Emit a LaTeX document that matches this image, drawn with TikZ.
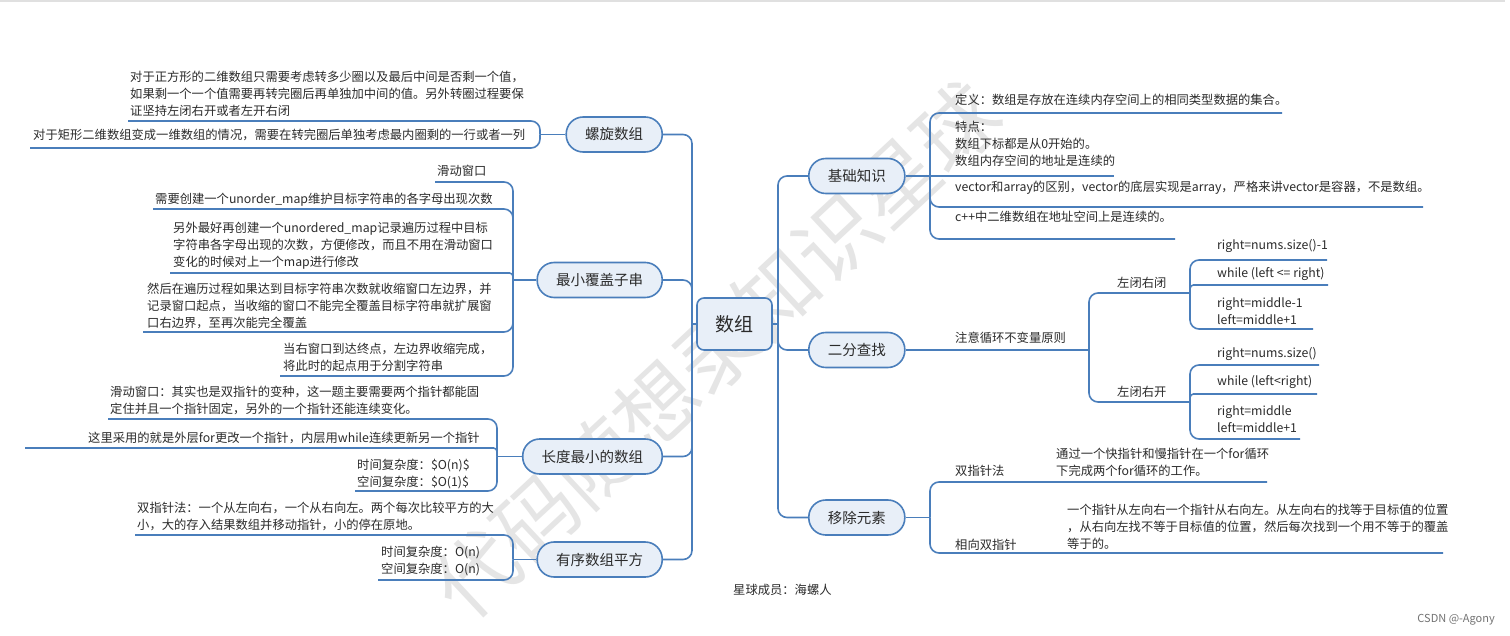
\documentclass[tikz,border=0pt]{standalone}
\usepackage{fontspec}
\setmainfont{Noto Sans CJK SC}
\definecolor{lineblue}{HTML}{4A7EBB}
\definecolor{nodefill}{HTML}{E8EFF8}
\definecolor{txtcol}{HTML}{2B2B2B}
\begin{document}
\begin{tikzpicture}[x=1pt,y=-1pt,
  conn/.style={draw=lineblue, line width=1.6pt, rounded corners=9pt},
  connsm/.style={draw=lineblue, line width=1.6pt, rounded corners=3.5pt},
  mainnode/.style={draw=lineblue, fill=nodefill, line width=1.6pt, rounded corners=17pt,
    minimum height=35pt, inner xsep=19pt, inner ysep=0pt, text=txtcol,
    font=\fontsize{14.5}{17}\selectfont},
  rootnode/.style={draw=lineblue, fill=nodefill, line width=1.6pt, rounded corners=7pt,
    minimum width=75pt, minimum height=52pt, text=txtcol, font=\fontsize{19}{22}\selectfont},
  txt/.style={inner sep=0pt, align=left, anchor=west, text=txtcol,
    font=\fontsize{12.3}{17}\selectfont},
  wm/.style={text=black!10, font=\fontsize{82}{82}\selectfont},
]
\useasboundingbox (0,0) rectangle (1510,636);
\fill[white] (0,0) rectangle (1510,636);
\draw[black!12, line width=1.5pt] (0,1) -- (1505,1);

% watermark
\node[wm, rotate=43] (wmark) at (716,350) {代码随想录知识星球};

% root and main topics
\node[rootnode] (root) at (734.5,324) {数组};
\node[mainnode, anchor=east] (spiral) at (663,134.5) {螺旋数组};
\node[mainnode, anchor=east] (minsub) at (663,280) {最小覆盖子串};
\node[mainnode, anchor=east] (minlen) at (663,456.5) {长度最小的数组};
\node[mainnode, anchor=east] (sqr) at (663,559.5) {有序数组平方};
\node[mainnode, anchor=west] (basic) at (808,176) {基础知识};
\node[mainnode, anchor=west] (bsearch) at (808,350) {二分查找};
\node[mainnode, anchor=west] (remove) at (808,517.5) {移除元素};

% trunks
\draw[conn] (root.west) -- (692,324) coordinate (lt);
\foreach \n in {spiral,minsub,minlen,sqr} \draw[conn] (lt) |- (\n.east);
\draw[conn] (root.east) -- (778,324) coordinate (rt);
\foreach \n in {basic,bsearch,remove} \draw[conn] (rt) |- (\n.west);

% ---------- left texts ----------
\node[txt] (l1a) at (130,94) {对于正方形的二维数组只需要考虑转多少圈以及最后中间是否剩一个值，\\如果剩一个一个值需要再转完圈后再单独加中间的值。另外转圈过程要保\\证坚持左闭右开或者左开右闭};
\node[txt] (l1b) at (33,135) {对于矩形二维数组变成一维数组的情况，需要在转完圈后单独考虑最内圈剩的一行或者一列};
\node[txt] (l2a) at (437,171) {滑动窗口};
\node[txt] (l2b) at (155,200) {需要创建一个unorder\_map维护目标字符串的各字母出现次数};
\node[txt] (l2c) at (173,246) {另外最好再创建一个unordered\_map记录遍历过程中目标\\字符串各字母出现的次数，方便修改，而且不用在滑动窗口\\变化的时候对上一个map进行修改};
\node[txt] (l2d) at (147,306) {然后在遍历过程如果达到目标字符串次数就收缩窗口左边界，并\\记录窗口起点，当收缩的窗口不能完全覆盖目标字符串就扩展窗\\口右边界，至再次能完全覆盖};
\node[txt] (l2e) at (283,357.5) {当右窗口到达终点，左边界收缩完成，\\将此时的起点用于分割字符串};
\node[txt] (l3a) at (110,400.5) {滑动窗口：其实也是双指针的变种，这一题主要需要两个指针都能固\\定住并且一个指针固定，另外的一个指针还能连续变化。};
\node[txt] (l3b) at (88,438) {这里采用的就是外层for更改一个指针，内层用while连续更新另一个指针};
\node[txt] (l3c) at (357,474) {时间复杂度：\$O(n)\$\\空间复杂度：\$O(1)\$};
\node[txt] (l4a) at (137,516.5) {双指针法：一个从左向右，一个从右向左。两个每次比较平方的大\\小，大的存入结果数组并移动指针，小的停在原地。};
\node[txt] (l4b) at (381,561.5) {时间复杂度：O(n)\\空间复杂度：O(n)};

% left underline ends
\coordinate (u1a) at (128,121);
\coordinate (u1b) at (30,148);
\coordinate (u2a) at (435,182);
\coordinate (u2b) at (153,209);
\coordinate (u2c) at (170,273);
\coordinate (u2d) at (143,332);
\coordinate (u2e) at (280,376);
\coordinate (u3a) at (108,419);
\coordinate (u3b) at (25,448);
\coordinate (u3c) at (355,491);
\coordinate (u4a) at (135,535);
\coordinate (u4b) at (378,580);

% left brackets
\draw[conn] (spiral.west) -- (540,134.5) coordinate (sb);
\draw[conn] (sb) |- (u1a);
\draw[conn] (sb) |- (u1b);
\draw[conn] (minsub.west) -- (513,280) coordinate (mb);
\draw[conn] (mb) |- (u2a);
\draw[conn] (mb) |- (u2b);
\draw[connsm] (mb) |- (u2c);
\draw[conn] (mb) |- (u2d);
\draw[conn] (mb) |- (u2e);
\draw[conn] (minlen.west) -- (497,456.5) coordinate (nb);
\draw[conn] (nb) |- (u3a);
\draw[connsm] (nb) |- (u3b);
\draw[conn] (nb) |- (u3c);
\draw[conn] (sqr.west) -- (513,559.5) coordinate (qb);
\draw[conn] (qb) |- (u4a);
\draw[conn] (qb) |- (u4b);

% ---------- right texts ----------
\node[txt] (r1a) at (955,100) {定义：数组是存放在连续内存空间上的相同类型数据的集合。};
\node[txt] (r1b) at (955,144) {特点：\\数组下标都是从0开始的。\\数组内存空间的地址是连续的};
\node[txt] (r1c) at (955,188) {vector和array的区别，vector的底层实现是array，严格来讲vector是容器，不是数组。};
\node[txt] (r1d) at (955,217) {c++中二维数组在地址空间上是连续的。};
\node[txt] (r2) at (955,338) {注意循环不变量原则};
\node[txt] (r2a) at (1117,283) {左闭右闭};
\node[txt] (r2b) at (1117,392) {左闭右开};
\node[txt] (r2a1) at (1217,246) {right=nums.size()-1};
\node[txt] (r2a2) at (1217,274) {while (left <= right)};
\node[txt] (r2a3) at (1217,311) {right=middle-1\\left=middle+1};
\node[txt] (r2b1) at (1217,354) {right=nums.size()};
\node[txt] (r2b2) at (1217,382) {while (left<right)};
\node[txt] (r2b3) at (1217,419) {right=middle\\left=middle+1};
\node[txt] (r3a) at (955,471) {双指针法};
\node[txt] (r3a1) at (1056,462) {通过一个快指针和慢指针在一个for循环\\下完成两个for循环的工作。};
\node[txt] (r3b) at (955,545) {相向双指针};
\node[txt] (r3b1) at (1067,527) {一个指针从左向右一个指针从右向左。从左向右的找等于目标值的位置\\，从右向左找不等于目标值的位置，然后每次找到一个用不等于的覆盖\\等于的。};

% right underline ends
\coordinate (v1a) at (1282,113);
\coordinate (v1b) at (1114,176);
\coordinate (v1c) at (1423,207);
\coordinate (v1d) at (1175,239);
\coordinate (v2a1) at (1327,260);
\coordinate (v2a2) at (1328,285);
\coordinate (v2a3) at (1313,329);
\coordinate (v2b1) at (1319,365);
\coordinate (v2b2) at (1317,394);
\coordinate (v2b3) at (1300,439);
\coordinate (v3a) at (1267,482);
\coordinate (v3b) at (1443,553);

% right brackets
\draw[conn] (basic.east) -- (930,176) coordinate (bb);
\draw[conn] (bb) |- (v1a);
\draw[conn] (bb) -- (v1b);
\draw[conn] (bb) |- (v1c);
\draw[conn] (bb) |- (v1d);
\draw[conn] (bsearch.east) -- (1089,350) coordinate (sb1);
\draw[conn] (sb1) |- (1190,293) coordinate (lb1);
\draw[conn] (sb1) |- (1190,402) coordinate (lb2);
\draw[conn] (lb1) |- (v2a1);
\draw[connsm] (lb1) |- (v2a2);
\draw[conn] (lb1) |- (v2a3);
\draw[conn] (lb2) |- (v2b1);
\draw[connsm] (lb2) |- (v2b2);
\draw[conn] (lb2) |- (v2b3);
\draw[conn] (remove.east) -- (930,517.5) coordinate (rb);
\draw[conn] (rb) |- (v3a);
\draw[conn] (rb) |- (v3b);

% footer
\node[txt] (member) at (733,590) {星球成员：海螺人};
\node[inner sep=0pt, anchor=east, text=black!55, font=\fontsize{11}{13}\selectfont] (csdn) at (1495,620) {CSDN @-Agony};
\end{tikzpicture}
\end{document}
